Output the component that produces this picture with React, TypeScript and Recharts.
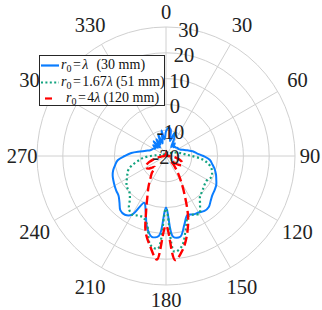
import React from "react";
import {
  RadarChart,
  Radar,
  PolarGrid,
  PolarAngleAxis,
  PolarRadiusAxis,
} from "recharts";

// angle in degrees, clockwise from top
const angles = [
  0, 5, 10, 15, 20, 25, 30, 35, 40, 45, 50, 55, 60, 65, 70, 75, 80, 85,
  90, 95, 100, 105, 110, 115, 120, 125, 130, 135, 140, 145, 150, 155, 160, 165, 170, 175,
  180, 185, 190, 195, 200, 205, 210, 215, 220, 225, 230, 235, 240, 245, 250, 255, 260, 265,
  270, 275, 280, 285, 290, 295, 300, 305, 310, 315, 320, 325, 330, 335, 340, 345, 350, 355,
];

// gain in dB, r0 = lambda (30 mm)
const gainLambda = [
  -10.5, -9, -9.5, -14, -10.5, -12.5, -16, -14, -15.5, -15, -15, -14.5, -14.5, -14, -13, -11.5, -9.5, -8,
  -5.5, -3, -1.8, -0.5, 0.6, 1.5, 2.5, 3, 3.5, 4.5, 5.8, 6, 5.3, 5, 4.3, 7.5, 11.8, 11.4,
  0, 11, 11.8, 8.5, 3, 0, 6.3, 7.8, 7.5, 5.5, 4, 3.5, 3, 2.5, 2, 1.2, 0, -1.2,
  -4, -6.5, -9.8, -12, -13.5, -14, -14.3, -15, -13.5, -15.5, -12.5, -16, -12.5, -15, -11, -15, -10, -13.5,
];

// r0 = 1.67 lambda (51 mm)
const gainLambda167 = [
  -19, -19, -19, -19, -19, -19, -19, -19, -19, -18.5, -18.5, -18, -17.5, -17, -16, -15, -14, -12.5,
  -10, -6, -3.5, -1.8, -1, -0.6, -1.5, -1.5, -1, -0.3, 0.5, 3, 5.8, 5, 5, 9.5, 15.5, 17.2,
  0.5, 16, 15, 8, 5.5, 5.5, 6.2, 5, 1.8, 0, -0.5, -1.3, -2.5, -3.5, -4.5, -6.5, -9, -11,
  -14, -16.5, -18, -18.5, -19, -19, -19, -19, -19, -19, -19, -19, -19, -19, -19, -19, -19, -19,
];

// r0 = 4 lambda (120 mm)
const gainLambda4 = [
  -18, -18.5, -19.5, -19.5, -19.5, -19.5, -19.5, -19.5, -19.5, -19.5, -19.5, -19.5, -19.5, -19.5, -19.5, -19.5, -19.5, -19.5,
  -19, -17.5, -16, -14.5, -13.5, -13, -13, -14, -16, -17.5, -15, -12, -8, -2.5, 5, 11.5, 17, 20.5,
  7, 20.3, 15.5, 10.5, 2.5, -3, -6.5, -9.5, -11.5, -14, -13, -11.5, -11, -11.5, -13, -15, -17, -18.5,
  -19.5, -19.5, -19.5, -19.5, -19.5, -19.5, -19.5, -19.5, -19.5, -19.5, -19.5, -19.5, -19.5, -19.5, -19.5, -19.5, -19.5, -18.5,
];

const angleTicks = [0, 30, 60, 90, 120, 150, 180, 210, 240, 270, 300, 330];
const radialTicks = [-20, -10, 0, 10, 20, 30];

const W = 322;
const H = 310;
const CX = 166;
const CY = 156;
const R = 129;
const FONT = "'Liberation Serif', 'Times New Roman', serif";
const TICK_SIZE = 20.5;

const BLUE = "#0a7dff";
const GREEN = "#12a37f";
const RED = "#ff0000";

const data = angles.map((a, i) => ({
  angle: a,
  lam1: gainLambda[i],
  lam167: gainLambda167[i],
  lam4: gainLambda4[i],
}));

function AngleTick(props: any) {
  const deg = Number(props.payload?.value);
  if (!angleTicks.includes(deg)) return null;
  const rad = (deg * Math.PI) / 180;
  const r = 144 + 9 * Math.abs(Math.sin(2 * rad));
  return (
    <text
      x={CX + r * Math.sin(rad)}
      y={CY - r * Math.cos(rad)}
      textAnchor="middle"
      dominantBaseline="central"
      fontFamily={FONT}
      fontSize={TICK_SIZE}
      fill="#222"
    >
      {deg}
    </text>
  );
}

function RadiusTick(props: any) {
  const { x, y, payload } = props;
  return (
    <text
      x={x}
      y={y + 1}
      textAnchor="middle"
      dominantBaseline="central"
      fontFamily={FONT}
      fontSize={TICK_SIZE}
      fill="#222"
    >
      {payload.value}
    </text>
  );
}

// smooth closed curve (centripetal Catmull-Rom) through the points the Radar computed
function smoothClosedPath(pts: { x: number; y: number }[]) {
  const n = pts.length;
  let d = `M${pts[0].x},${pts[0].y}`;
  for (let i = 0; i < n; i++) {
    const p0 = pts[(i - 1 + n) % n];
    const p1 = pts[i];
    const p2 = pts[(i + 1) % n];
    const p3 = pts[(i + 2) % n];
    const l01 = Math.hypot(p1.x - p0.x, p1.y - p0.y);
    const l12 = Math.hypot(p2.x - p1.x, p2.y - p1.y);
    const l23 = Math.hypot(p3.x - p2.x, p3.y - p2.y);
    const a01 = Math.sqrt(l01);
    const a12 = Math.sqrt(l12);
    const a23 = Math.sqrt(l23);
    let c1x = p1.x, c1y = p1.y, c2x = p2.x, c2y = p2.y;
    if (a01 > 1e-6) {
      const a = 2 * l01 + 3 * a01 * a12 + l12;
      const m = 3 * a01 * (a01 + a12);
      c1x = (p1.x * a - p0.x * l12 + p2.x * l01) / m;
      c1y = (p1.y * a - p0.y * l12 + p2.y * l01) / m;
    }
    if (a23 > 1e-6) {
      const b = 2 * l23 + 3 * a23 * a12 + l12;
      const m = 3 * a23 * (a23 + a12);
      c2x = (p2.x * b + p1.x * l23 - p3.x * l12) / m;
      c2y = (p2.y * b + p1.y * l23 - p3.y * l12) / m;
    }
    d += ` C${c1x},${c1y} ${c2x},${c2y} ${p2.x},${p2.y}`;
  }
  return d + "Z";
}

function curveShape(stroke: string, width: number, dash?: string) {
  return (props: any) => (
    <path
      d={smoothClosedPath(props.points)}
      fill="none"
      stroke={stroke}
      strokeWidth={width}
      strokeDasharray={dash}
      strokeLinejoin="round"
    />
  );
}

export default function App() {
  const ringRadii = radialTicks
    .slice(1)
    .map((t) => ((t - radialTicks[0]) / (radialTicks[radialTicks.length - 1] - radialTicks[0])) * R);

  return (
    <div style={{ position: "absolute", left: 0, top: 0, width: W, height: H, background: "#fff" }}>
      <RadarChart
        width={W}
        height={H}
        data={data}
        cx={CX}
        cy={CY}
        outerRadius={R}
        startAngle={90}
        endAngle={-270}
        margin={{ top: 0, right: 0, bottom: 0, left: 0 }}
      >
        <PolarGrid
          gridType="circle"
          polarAngles={angleTicks.map((a) => 90 - a)}
          polarRadius={ringRadii}
          stroke="#d0d0d0"
          strokeWidth={1}
        />
        <PolarAngleAxis dataKey="angle" tick={AngleTick} tickLine={false} axisLine={false} />
        <PolarRadiusAxis
          type="number"
          angle={80}
          domain={[-20, 30]}
          tickCount={6}
          allowDataOverflow
          axisLine={false}
          tickLine={false}
          tick={RadiusTick}
        />
        <Radar
          dataKey="lam1"
          stroke={BLUE}
          fill="none"
          dot={false}
          shape={curveShape(BLUE, 2)}
          isAnimationActive={false}
        />
        <Radar
          dataKey="lam167"
          stroke={GREEN}
          fill="none"
          dot={false}
          shape={curveShape(GREEN, 2.2, "2 2.6")}
          isAnimationActive={false}
        />
        <Radar
          dataKey="lam4"
          stroke={RED}
          fill="none"
          dot={false}
          shape={curveShape(RED, 2.4, "9 4")}
          isAnimationActive={false}
        />
      </RadarChart>

      <LegendBox />
    </div>
  );
}

/* ------------------------------------------------------------------ */

function LegendBox() {
  const sub = { fontSize: 10, verticalAlign: "-3px" } as React.CSSProperties;
  const eq = { margin: "0 1.5px" } as React.CSSProperties;
  const rows = [
    { color: BLUE, dash: undefined, x1: 1, x2: 19, textX: 21, factor: "", mm: "30", gap: 8 },
    { color: GREEN, dash: "2 2.4", x1: 1, x2: 19, textX: 21, factor: "1.67", mm: "51", gap: 3 },
    { color: RED, dash: undefined, x1: 5, x2: 12, textX: 26, factor: "4", mm: "120", gap: 3 },
  ];
  return (
    <div
      style={{
        position: "absolute",
        left: 39,
        top: 55,
        width: 126,
        height: 51,
        boxSizing: "border-box",
        border: "1.3px solid #262626",
        background: "#fff",
        fontFamily: FONT,
        fontSize: 14,
        color: "#111",
      }}
    >
      {rows.map((row, i) => (
        <div
          key={i}
          style={{ position: "absolute", left: 0, top: 1 + i * 16.5, height: 16, width: 124, whiteSpace: "nowrap" }}
        >
          <svg width={24} height={16} style={{ position: "absolute", left: 0, top: 0 }}>
            <line
              x1={row.x1}
              x2={row.x2}
              y1={8.5}
              y2={8.5}
              stroke={row.color}
              strokeWidth={2.2}
              strokeDasharray={row.dash}
            />
          </svg>
          <span style={{ position: "absolute", left: row.textX, top: 0, lineHeight: "16px" }}>
            <i>r</i>
            <span style={sub}>0</span>
            <span style={eq}>=</span>
            {row.factor}
            <i>λ</i>
            <span style={{ marginLeft: row.gap }}>({row.mm} mm)</span>
          </span>
        </div>
      ))}
    </div>
  );
}
